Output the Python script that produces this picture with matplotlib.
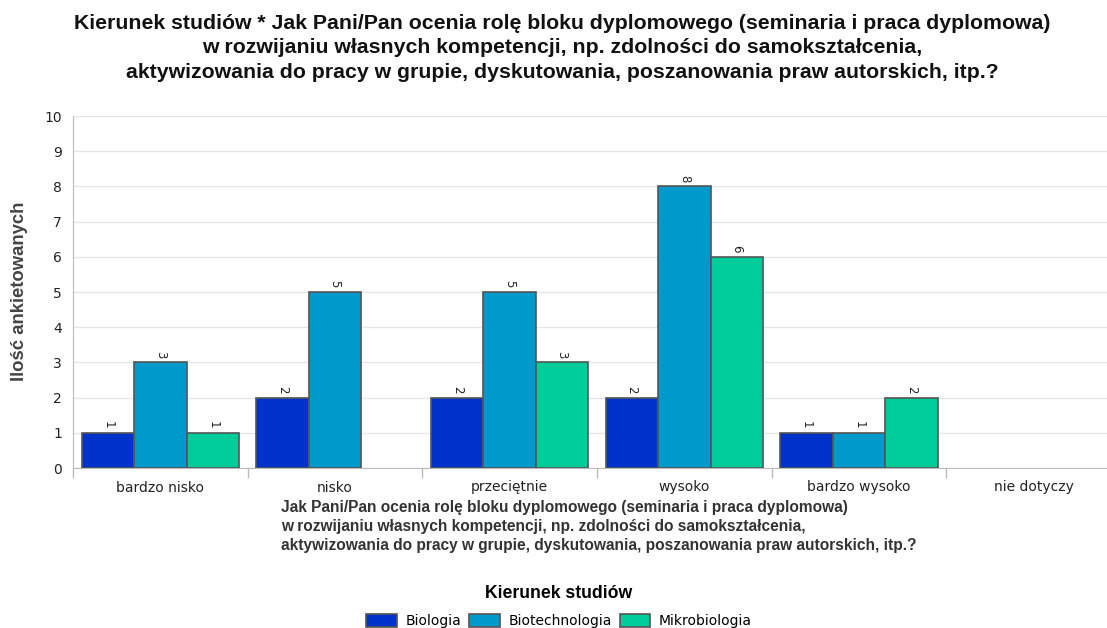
"""
plot.py

Grouped bar chart: Kierunek studiów vs ocena bloku dyplomowego.
"""
import matplotlib
matplotlib.use("Agg")
import matplotlib.pyplot as plt
import numpy as np
from matplotlib.patches import Patch

categories = ["bardzo nisko", "nisko", "przeciętnie", "wysoko", "bardzo wysoko", "nie dotyczy"]
series_names = ["Biologia", "Biotechnologia", "Mikrobiologia"]
biologia = [1, 2, 2, 2, 1, 0]
biotechnologia = [3, 5, 5, 8, 1, 0]
mikrobiologia = [1, 0, 3, 6, 2, 0]
colors = ["#0033cc", "#0099cc", "#00cc99"]

title = ("Kierunek studiów * Jak Pani/Pan ocenia rolę bloku dyplomowego (seminaria i praca dyplomowa)\n"
         "w rozwijaniu własnych kompetencji, np. zdolności do samokształcenia,\n"
         "aktywizowania do pracy w grupie, dyskutowania, poszanowania praw autorskich, itp.?")
xlabel = ("Jak Pani/Pan ocenia rolę bloku dyplomowego (seminaria i praca dyplomowa)\n"
          "w rozwijaniu własnych kompetencji, np. zdolności do samokształcenia,\n"
          "aktywizowania do pracy w grupie, dyskutowania, poszanowania praw autorskich, itp.?")

plt.rcParams['font.family'] = ['Liberation Sans', 'DejaVu Sans']

W, H = 1107, 628
fig = plt.figure(figsize=(W / 100, H / 100), dpi=100)
# axes in pixel coords: left 73, right ~1121 (runs off the image), top 116, bottom 468
ax = fig.add_axes([73 / W, (H - 468) / H, (1121 - 73) / W, (468 - 116) / H])

x = np.arange(len(categories))
bw = 0.3
all_series = [biologia, biotechnologia, mikrobiologia]
for i, (vals, col) in enumerate(zip(all_series, colors)):
    offs = (i - 1) * bw
    for xi, v in zip(x, vals):
        if v == 0:
            continue
        ax.bar(xi + offs, v, width=bw, color=col, edgecolor="#555555", linewidth=1.2, zorder=3)
        ax.text(xi + offs, v + 0.12, str(v), rotation=-90, ha="center", va="bottom",
                fontsize=8.5, family="DejaVu Sans", color="#222222")

ax.set_xlim(-0.5, len(categories) - 0.5)
ax.set_ylim(0, 10)
ax.set_yticks(range(0, 11))
ax.tick_params(axis="y", length=0, labelsize=10, colors="#222222", pad=8)
for lbl in ax.get_yticklabels():
    lbl.set_family("DejaVu Sans")
ax.yaxis.grid(True, color="#e6e6e6", linewidth=1, zorder=0)
ax.set_axisbelow(True)

# category labels, with tick marks on the boundaries
ax.set_xticks(x)
ax.set_xticklabels(categories, fontsize=10, family="DejaVu Sans", color="#222222")
ax.tick_params(axis="x", which="major", length=0, pad=9)
ax.set_xticks(np.arange(-0.5, len(categories), 1), minor=True)
ax.tick_params(axis="x", which="minor", length=7, color="#bbbbbb", width=1)

for s in ["top", "right"]:
    ax.spines[s].set_visible(False)
ax.spines["left"].set_color("#bbbbbb")
ax.spines["bottom"].set_color("#bbbbbb")

fig.text(562 / W, 1 - 14 / H, title, ha="center", va="top", fontsize=15.3,
         fontweight="bold", linespacing=1.36, color="#111111")
fig.text(20 / W, 1 - 291 / H, "Ilość ankietowanych", rotation=90, ha="center", va="center",
         fontsize=13.3, fontweight="bold", color="#444444")
fig.text(281 / W, 1 - 500 / H, xlabel, ha="left", va="top", fontsize=11.2,
         fontweight="bold", linespacing=1.33, color="#333333")

handles = [Patch(facecolor=c, edgecolor="#555555", linewidth=1.2) for c in colors]
leg = fig.legend(handles, series_names, loc="upper center", bbox_to_anchor=(559 / W, 1 - 572 / H),
                 ncol=3, frameon=False, title="Kierunek studiów", handlelength=2.2,
                 handleheight=1.1, columnspacing=0.6, handletextpad=0.6,
                 prop={"family": "DejaVu Sans", "size": 10})
leg.get_title().set_fontweight("bold")
leg.get_title().set_fontsize(12.7)
leg._legend_box.sep = 9

fig.savefig("out.png", dpi=100)
